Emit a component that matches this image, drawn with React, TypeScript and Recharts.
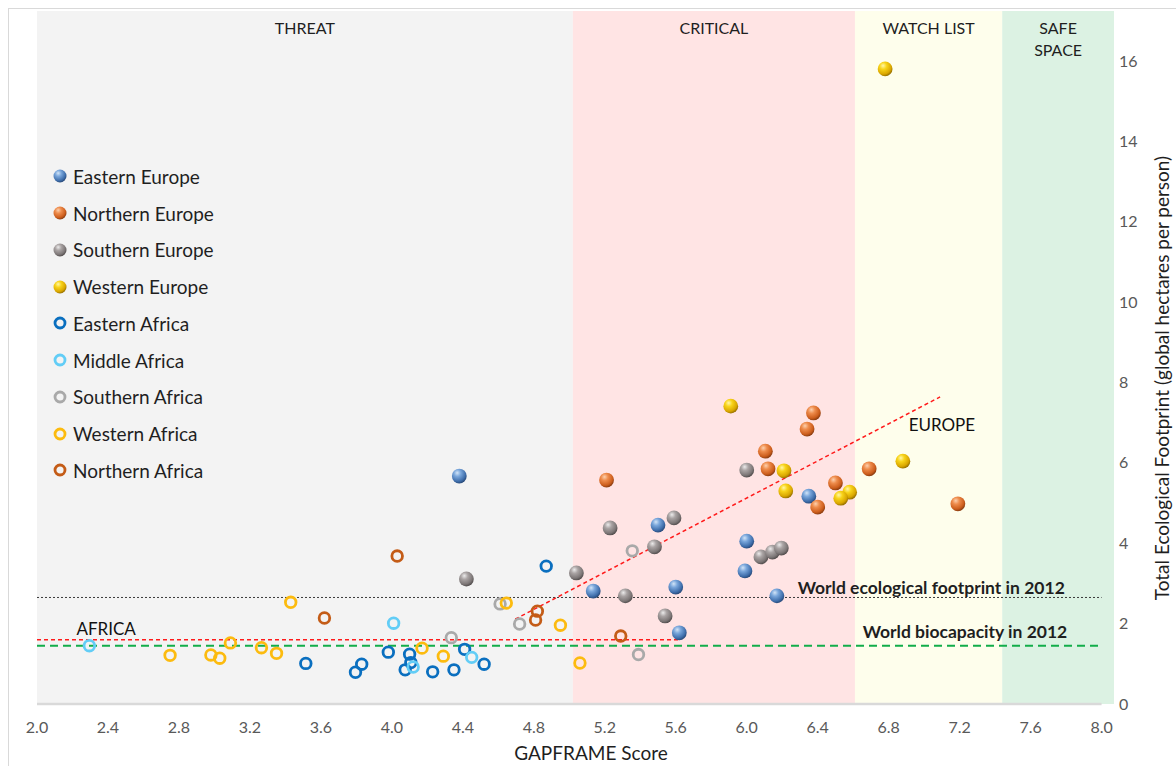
import React from 'react';
import {
  ScatterChart, Scatter, XAxis, YAxis, ReferenceArea, ReferenceLine, ReferenceDot, Legend,
} from 'recharts';

// GAPFRAME score (x) vs total ecological footprint (y)
const easternEurope = [
  { x: 4.38, y: 5.67 }, { x: 5.5, y: 4.45 }, { x: 6.0, y: 4.05 }, { x: 5.99, y: 3.31 },
  { x: 5.135, y: 2.81 }, { x: 5.6, y: 2.91 }, { x: 6.17, y: 2.69 }, { x: 5.62, y: 1.77 },
  { x: 6.35, y: 5.17 },
];
const northernEurope = [
  { x: 6.376, y: 7.24 }, { x: 6.34, y: 6.84 }, { x: 6.105, y: 6.29 }, { x: 6.12, y: 5.85 },
  { x: 5.21, y: 5.57 }, { x: 6.69, y: 5.85 }, { x: 6.5, y: 5.5 }, { x: 6.4, y: 4.9 },
  { x: 7.19, y: 4.98 },
];
const southernEurope = [
  { x: 6.0, y: 5.82 }, { x: 5.23, y: 4.38 }, { x: 5.59, y: 4.63 }, { x: 5.48, y: 3.91 },
  { x: 6.08, y: 3.66 }, { x: 6.145, y: 3.78 }, { x: 6.195, y: 3.88 }, { x: 5.04, y: 3.26 },
  { x: 5.316, y: 2.69 }, { x: 5.54, y: 2.19 }, { x: 4.42, y: 3.11 },
];
const westernEurope = [
  { x: 5.91, y: 7.41 }, { x: 6.21, y: 5.8 }, { x: 6.22, y: 5.3 }, { x: 6.88, y: 6.04 },
  { x: 6.58, y: 5.27 }, { x: 6.53, y: 5.12 }, { x: 6.78, y: 15.8 },
];
const easternAfrica = [
  { x: 4.87, y: 3.43 }, { x: 3.515, y: 1.01 }, { x: 3.795, y: 0.79 }, { x: 3.83, y: 0.99 },
  { x: 3.98, y: 1.29 }, { x: 4.1, y: 1.24 }, { x: 4.107, y: 1.03 }, { x: 4.075, y: 0.85 },
  { x: 4.23, y: 0.8 }, { x: 4.35, y: 0.85 }, { x: 4.41, y: 1.36 }, { x: 4.52, y: 0.99 },
];
const middleAfrica = [
  { x: 2.295, y: 1.45 }, { x: 4.01, y: 2.01 }, { x: 4.12, y: 0.92 }, { x: 4.45, y: 1.16 },
];
const southernAfrica = [
  { x: 5.355, y: 3.81 }, { x: 4.61, y: 2.49 }, { x: 4.72, y: 1.99 }, { x: 4.335, y: 1.65 },
  { x: 5.39, y: 1.23 },
];
const westernAfrica = [
  { x: 3.43, y: 2.53 }, { x: 4.645, y: 2.51 }, { x: 4.95, y: 1.96 }, { x: 2.75, y: 1.21 },
  { x: 2.98, y: 1.22 }, { x: 3.03, y: 1.14 }, { x: 3.09, y: 1.52 }, { x: 3.265, y: 1.4 },
  { x: 3.35, y: 1.26 }, { x: 4.17, y: 1.39 }, { x: 4.29, y: 1.19 }, { x: 5.06, y: 1.02 },
];
const northernAfrica = [
  { x: 4.03, y: 3.68 }, { x: 3.62, y: 2.14 }, { x: 4.82, y: 2.31 }, { x: 4.81, y: 2.09 },
  { x: 5.29, y: 1.69 },
];

const bands = [
  { from: 2.0, to: 5.02, lines: ['THREAT'], fill: '#f3f3f3' },
  { from: 5.02, to: 6.61, lines: ['CRITICAL'], fill: '#ffe4e4' },
  { from: 6.61, to: 7.44, lines: ['WATCH LIST'], fill: '#fefeec' },
  { from: 7.44, to: 8.07, lines: ['SAFE', 'SPACE'], fill: '#dcf2e3' },
];

const xTicks = [2.0, 2.4, 2.8, 3.2, 3.6, 4.0, 4.4, 4.8, 5.2, 5.6, 6.0, 6.4, 6.8, 7.2, 7.6, 8.0];
const yTicks = [0, 2, 4, 6, 8, 10, 12, 14, 16];

const worldFootprint = 2.65;
const worldBiocapacity = 1.45;
const africaTrend = [{ x: 2.0, y: 1.6 }, { x: 5.62, y: 1.6 }];
const europeTrend = [{ x: 4.695, y: 2.11 }, { x: 7.09, y: 7.64 }];

const FONT = 'Lato, "Open Sans", sans-serif';

type Series = { name: string; data: { x: number; y: number }[]; kind: 'ball' | 'ring'; color: string };

const series: Series[] = [
  { name: 'Eastern Europe', data: easternEurope, kind: 'ball', color: 'gBlue' },
  { name: 'Northern Europe', data: northernEurope, kind: 'ball', color: 'gOrange' },
  { name: 'Southern Europe', data: southernEurope, kind: 'ball', color: 'gGray' },
  { name: 'Western Europe', data: westernEurope, kind: 'ball', color: 'gGold' },
  { name: 'Eastern Africa', data: easternAfrica, kind: 'ring', color: '#0a6fbf' },
  { name: 'Middle Africa', data: middleAfrica, kind: 'ring', color: '#62cdf6' },
  { name: 'Southern Africa', data: southernAfrica, kind: 'ring', color: '#a9a9a9' },
  { name: 'Western Africa', data: westernAfrica, kind: 'ring', color: '#fcbb0f' },
  { name: 'Northern Africa', data: northernAfrica, kind: 'ring', color: '#c45c17' },
];

const gradients = [
  { id: 'gBlue', stops: ['#d2e4f7', '#79a6db', '#3f6eab', '#2a4c7c'] },
  { id: 'gOrange', stops: ['#fcd0ae', '#ee8c4c', '#cc5d1c', '#8e3f12'] },
  { id: 'gGray', stops: ['#ecebeb', '#aaa4a4', '#7c7676', '#555050'] },
  { id: 'gGold', stops: ['#fff7a8', '#f8d41a', '#d9a600', '#9a7300'] },
];

function Marker({ s, size }: { s: Series; size: number }) {
  const c = size / 2;
  if (s.kind === 'ball') {
    return <circle cx={c} cy={c} r={c - 0.5} fill={`url(#${s.color})`} />;
  }
  return <circle cx={c} cy={c} r={c - 2} fill="none" stroke={s.color} strokeWidth={2.8} />;
}

const ballShape = (id: string) => (p: any) => (
  <circle cx={p.cx} cy={p.cy} r={7.4} fill={`url(#${id})`} />
);
const ringShape = (color: string) => (p: any) => (
  <circle cx={p.cx} cy={p.cy} r={5.3} fill="none" stroke={color} strokeWidth={2.8} />
);

function BandLabel(props: any) {
  const { viewBox, lines } = props;
  if (!viewBox) return null;
  const cx = viewBox.x + viewBox.width / 2;
  return (
    <text x={cx} y={viewBox.y + 23} textAnchor="middle" fontSize={16} fill="#1f1f1f" fontFamily={FONT}>
      {lines.map((l: string, i: number) => (
        <tspan key={l} x={cx} dy={i === 0 ? 0 : 22}>{l}</tspan>
      ))}
    </text>
  );
}

function XTitle(props: any) {
  const { viewBox } = props;
  if (!viewBox) return null;
  return (
    <text x={viewBox.x + 554} y={viewBox.y + 56} textAnchor="middle" fontSize={19} fill="#1f1f1f" fontFamily={FONT}>
      GAPFRAME Score
    </text>
  );
}

function YTitle(props: any) {
  const { viewBox } = props;
  if (!viewBox) return null;
  const x = viewBox.x + 55;
  const y = 369;
  return (
    <text x={x} y={y} transform={`rotate(-90 ${x} ${y})`} textAnchor="middle" fontSize={19} fill="#1f1f1f" fontFamily={FONT}>
      Total Ecological Footprint (global hectares per person)
    </text>
  );
}

function LegendBox() {
  return (
    <div style={{ fontFamily: FONT, fontSize: 19, color: '#1f1f1f' }}>
      {series.map((s) => (
        <div key={s.name} style={{ height: 36.75, display: 'flex', alignItems: 'center' }}>
          <svg width={14} height={14} style={{ marginRight: 6, flex: 'none' }}>
            <Marker s={s} size={14} />
          </svg>
          <span>{s.name}</span>
        </div>
      ))}
    </div>
  );
}

export default function App() {
  return (
    <div
      style={{
        position: 'absolute', left: 8, top: 8, width: 1167, height: 757,
        borderTop: '1px solid #d9d9d9', borderLeft: '1px solid #d9d9d9', background: '#fff',
        fontFamily: FONT,
      }}
    >
      <ScatterChart width={1167} height={757} margin={{ top: 2, right: 0, bottom: 0, left: 28 }}>
        <defs>
          {gradients.map((g) => (
            <radialGradient key={g.id} id={g.id} cx="38%" cy="32%" r="68%" fx="36%" fy="28%">
              <stop offset="0%" stopColor={g.stops[0]} />
              <stop offset="35%" stopColor={g.stops[1]} />
              <stop offset="80%" stopColor={g.stops[2]} />
              <stop offset="100%" stopColor={g.stops[3]} />
            </radialGradient>
          ))}
        </defs>
        <XAxis
          type="number" dataKey="x" domain={[2, 8.07]} ticks={xTicks}
          tickFormatter={(v: number) => v.toFixed(1)} axisLine={false} tickLine={false}
          tickSize={6} tickMargin={12} height={62} interval={0}
          tick={{ fill: '#595959', fontSize: 16, fontFamily: FONT }}
          label={<XTitle />}
        />
        <YAxis
          type="number" dataKey="y" orientation="right" domain={[0, 17.24]} ticks={yTicks}
          axisLine={false} tickLine={false} tickSize={2} tickMargin={3} width={62} interval={0}
          tick={{ fill: '#595959', fontSize: 16, fontFamily: FONT }}
          label={<YTitle />}
        />
        {bands.map((b) => (
          <ReferenceArea
            key={b.lines.join(' ')} x1={b.from} x2={b.to} y1={0} y2={17.24}
            fill={b.fill} fillOpacity={1} stroke="none" ifOverflow="visible"
            label={<BandLabel lines={b.lines} />}
          />
        ))}
        <ReferenceLine segment={[{ x: 2, y: 0 }, { x: 8, y: 0 }]} stroke="#d9d9d9" strokeWidth={2.5} />
        <ReferenceLine
          segment={[{ x: 2, y: worldFootprint }, { x: 8, y: worldFootprint }]}
          stroke="#3a3a3a" strokeWidth={1} strokeDasharray="2 2"
        />
        <ReferenceLine
          segment={[{ x: 2, y: worldBiocapacity }, { x: 8, y: worldBiocapacity }]}
          stroke="#12ad4a" strokeWidth={2} strokeDasharray="8 5"
        />
        <ReferenceLine segment={africaTrend} stroke="#ff1a1a" strokeWidth={1.5} strokeDasharray="4 3" />
        <ReferenceLine segment={europeTrend} stroke="#ff1a1a" strokeWidth={1.5} strokeDasharray="4 3" />
        <ReferenceDot x={2.39} y={1.87} r={0} fill="none" stroke="none"
          label={{ value: 'AFRICA', position: 'center', fontSize: 17, fill: '#111', fontFamily: FONT }} />
        <ReferenceDot x={7.1} y={6.94} r={0} fill="none" stroke="none"
          label={{ value: 'EUROPE', position: 'center', fontSize: 17, fill: '#111', fontFamily: FONT }} />
        <ReferenceDot x={7.04} y={2.89} r={0} fill="none" stroke="none"
          label={{ value: 'World ecological footprint in 2012', position: 'center', fontSize: 17.5, fontWeight: 700, fill: '#1f1f1f', fontFamily: FONT }} />
        <ReferenceDot x={7.23} y={1.79} r={0} fill="none" stroke="none"
          label={{ value: 'World biocapacity in 2012', position: 'center', fontSize: 17.5, fontWeight: 700, fill: '#1f1f1f', fontFamily: FONT }} />
        {series.map((s) => (
          <Scatter
            key={s.name} name={s.name} data={s.data} isAnimationActive={false}
            shape={s.kind === 'ball' ? ballShape(s.color) : ringShape(s.color)}
          />
        ))}
        <Legend
          layout="horizontal" verticalAlign="middle" align="center"
          wrapperStyle={{ left: 44, top: 149, width: 260, height: 331 }}
          content={() => <LegendBox />}
        />
      </ScatterChart>
    </div>
  );
}
